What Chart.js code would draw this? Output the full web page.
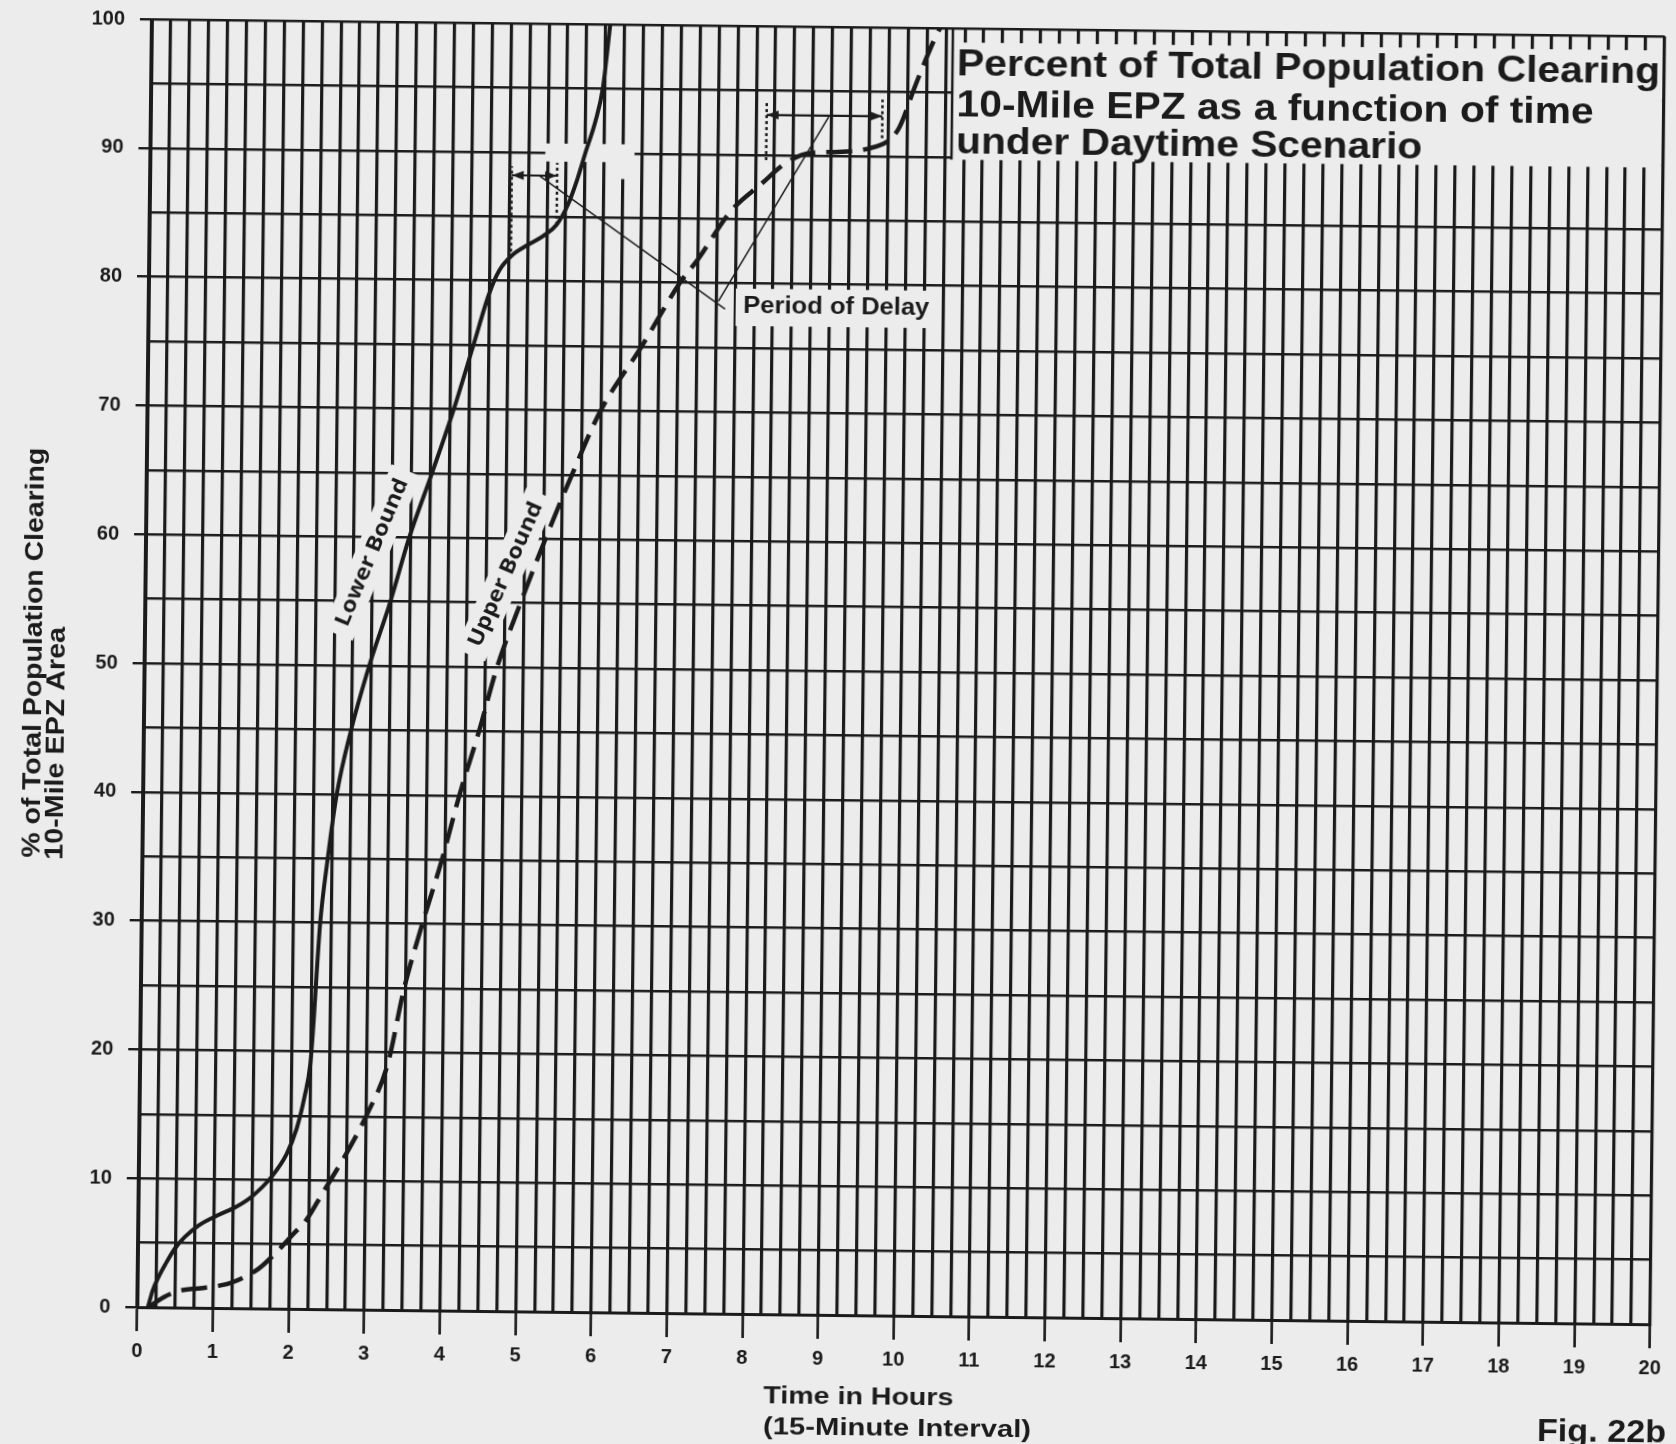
<!DOCTYPE html>
<html>
<head>
<meta charset="utf-8">
<title>Percent of Total Population Clearing 10-Mile EPZ – Daytime Scenario</title>
<script src="https://cdn.jsdelivr.net/npm/chart.js@4.4.1/dist/chart.umd.min.js"></script>
<style>
  html, body { margin: 0; padding: 0; background: #ececec; overflow: hidden; }
  /* the printed sheet sits slightly askew on the page */
  #sheet { width: 1676px; height: 1444px; transform: rotate(0.65deg); transform-origin: 838px 722px; }
  canvas { display: block; }
</style>
</head>
<body>
<div id="sheet"><canvas id="chart" width="1676" height="1444"></canvas></div>
<script>
// Time (hours) versus percent of the EPZ population that has cleared the 10-mile zone.
const lowerHours   = [0.14, 0.2, 0.28, 0.36, 0.49, 0.62, 0.8, 1.05, 1.3, 1.5,
                      1.75, 1.95, 2.08, 2.18, 2.25, 2.29, 2.32, 2.36, 2.45, 2.56,
                      2.74, 2.97, 3.24, 3.48, 3.77, 4.05, 4.3, 4.5, 4.63, 4.8,
                      5.0, 5.2, 5.38, 5.53, 5.65, 5.75, 5.88, 5.97, 6.06];
const lowerPercent = [0, 1.3, 2.4, 3.3, 4.6, 5.5, 6.4, 7.2, 7.9, 8.7,
                      10.2, 12.0, 14.0, 16.5, 19.0, 22.5, 26.0, 30, 35, 40,
                      45, 50, 55, 60, 65, 70, 75, 79, 80.8, 82.0,
                      82.8, 83.5, 84.4, 86, 88, 90, 92.5, 95, 100];

const upperHours   = [0.15, 0.35, 0.55, 0.8, 1.05, 1.25, 1.6, 1.8, 2.05, 2.22,
                      2.43, 2.74, 3.01, 3.27, 3.48, 3.71, 3.96, 4.18, 4.43, 4.66,
                      4.96, 5.28, 5.62, 5.99, 6.52, 7.02, 7.25, 7.68, 8.07, 8.43,
                      8.73, 9.09, 9.5, 9.75, 9.9, 10.1, 10.36, 10.42];
const upperPercent = [0, 0.8, 1.3, 1.5, 1.7, 2.0, 3.1, 4.2, 5.8, 6.9,
                      9.0, 12.1, 15.2, 19.0, 25, 30, 35, 40, 45, 50,
                      55, 60, 65, 70, 75, 80, 81.8, 85.6, 87.7, 89.5,
                      90.2, 90.3, 90.6, 91.2, 92.3, 95.5, 99.3, 100];

const xTickLabels = ['0', '1', '2', '3', '4', '5', '6', '7', '8', '9', '10',
                     '11', '12', '13', '14', '15', '16', '17', '18', '19', '20'];
const yTickLabels = ['0', '10', '20', '30', '40', '50', '60', '70', '80', '90', '100'];

const titleLines = ['Percent of Total Population Clearing',
                    '10-Mile EPZ as a function of time',
                    'under Daytime Scenario'];
const yTitleLines = ['% of Total Population Clearing', '10-Mile EPZ Area'];
const xTitleLines = ['Time in Hours', '(15-Minute Interval)'];

const PAPER = '#ececec';
const INK = '#1b1b1b';
const SANS = '"Liberation Sans", Arial, Helvetica, sans-serif';
const deg = d => d * Math.PI / 180;

const toPoints = (xs, ys) => xs.map((x, i) => ({ x, y: ys[i] }));

function segment(ctx, x1, y1, x2, y2) {
  ctx.beginPath();
  ctx.moveTo(x1, y1);
  ctx.lineTo(x2, y2);
  ctx.stroke();
}

// text squeezed or stretched horizontally to a given run length
function fitText(ctx, text, x, y, width, font, opts = {}) {
  ctx.save();
  ctx.font = font;
  ctx.textAlign = opts.align || 'left';
  ctx.textBaseline = opts.baseline || 'alphabetic';
  const k = width / ctx.measureText(text).width;
  ctx.translate(x, y);
  if (opts.angle) ctx.rotate(opts.angle);
  ctx.scale(k, 1);
  ctx.fillText(text, 0, 0);
  ctx.restore();
}

function arrowHead(ctx, x, y, dir) {
  ctx.beginPath();
  ctx.moveTo(x, y);
  ctx.lineTo(x - dir * 12, y - 4.5);
  ctx.lineTo(x - dir * 12, y + 4.5);
  ctx.closePath();
  ctx.fill();
}

const curveLabels = [
  { text: 'Lower Bound', h: 2.99, v: 58.8, len: 158, angle: -68.0 },
  { text: 'Upper Bound', h: 4.76, v: 57.2, len: 156, angle: -66.9 }
];

const figureNotes = {
  id: 'figureNotes',
  beforeDatasetsDraw(chart) {
    const { ctx, chartArea: a } = chart;
    const X = v => chart.scales.x.getPixelForValue(v);
    const Y = v => chart.scales.y.getPixelForValue(v);
    ctx.save();
    ctx.fillStyle = PAPER;

    // heading panel over the upper-right corner of the grid
    const pL = X(10.59), pT = Y(98.9), pB = Y(89.8);
    ctx.fillRect(pL, pT, a.right - 2 - pL, pB - pT);

    // worn spots on the 90 % rule
    ctx.fillRect(X(5.22), Y(90.7), X(6.4) - X(5.22), Y(89.3) - Y(90.7));
    ctx.fillRect(X(6.1), Y(90.2), X(6.36) - X(6.1), Y(88.0) - Y(90.2));

    // ground under "Period of Delay"
    ctx.fillRect(X(7.76), Y(79.6), X(10.37) - X(7.76), Y(76.7) - Y(79.6));

    // grounds under the rotated curve names
    for (const c of curveLabels) {
      ctx.save();
      ctx.translate(X(c.h), Y(c.v));
      ctx.rotate(deg(c.angle));
      ctx.fillRect(-c.len / 2 - 10, -16, c.len + 20, 32);
      ctx.restore();
    }

    // left rule of the heading panel
    ctx.strokeStyle = INK;
    ctx.lineWidth = 2.5;
    segment(ctx, pL, a.top, pL, pB);
    ctx.restore();
  },
  afterDatasetsDraw(chart) {
    const { ctx } = chart;
    const X = v => chart.scales.x.getPixelForValue(v);
    const Y = v => chart.scales.y.getPixelForValue(v);
    ctx.save();
    ctx.strokeStyle = INK;
    ctx.fillStyle = INK;

    // delay brackets: dotted end markers
    ctx.lineWidth = 2.5;
    ctx.setLineDash([3, 3]);
    segment(ctx, X(4.78), Y(81.8), X(4.78), Y(88.9));
    segment(ctx, X(5.38), Y(84.4), X(5.38), Y(89.2));
    segment(ctx, X(8.14), Y(89.6), X(8.14), Y(94.2));
    segment(ctx, X(9.67), Y(91.4), X(9.67), Y(94.4));
    ctx.setLineDash([]);

    // delay brackets: spans with arrow heads
    ctx.lineWidth = 2.2;
    segment(ctx, X(4.78), Y(88.2), X(5.38), Y(88.2));
    arrowHead(ctx, X(4.78), Y(88.2), -1);
    arrowHead(ctx, X(5.38), Y(88.2), 1);
    segment(ctx, X(8.14), Y(93.1), X(9.67), Y(93.1));
    arrowHead(ctx, X(8.14), Y(93.1), -1);
    arrowHead(ctx, X(9.67), Y(93.1), 1);

    // leaders to the "Period of Delay" note
    ctx.lineWidth = 1.5;
    segment(ctx, X(5.14), Y(88.2), X(7.62), Y(78.0));
    segment(ctx, X(8.96), Y(93.0), X(7.53), Y(78.6));

    fitText(ctx, 'Period of Delay', X(7.86), Y(78.3) + 8, 186, `bold 23px ${SANS}`);

    // curve names along the lines
    for (const c of curveLabels) {
      fitText(ctx, c.text, X(c.h), Y(c.v), c.len, `bold 21px "Open Sans", ${SANS}`,
              { align: 'center', baseline: 'middle', angle: deg(c.angle) });
    }

    // heading
    const tx = X(10.65);
    const titleBase = [74, 115, 152];
    const titleWidth = [703, 637, 466];
    titleLines.forEach((t, i) => fitText(ctx, t, tx, titleBase[i], titleWidth[i], `bold 37px ${SANS}`));

    // axis titles
    const yStart = Y(34.8);
    fitText(ctx, yTitleLines[0], 41, yStart, 410, `bold 25px ${SANS}`, { angle: -Math.PI / 2 });
    fitText(ctx, yTitleLines[1], 64, yStart + 2, 233, `bold 25px ${SANS}`, { angle: -Math.PI / 2 });

    const xx = X(8.29);
    fitText(ctx, xTitleLines[0], xx, 1404, 190, `bold 23px ${SANS}`);
    fitText(ctx, xTitleLines[1], xx, 1435, 268, `bold 23px ${SANS}`);

    fitText(ctx, 'Fig. 22b', 1545, 1433, 129, `bold 31px ${SANS}`);
    ctx.restore();
  }
};

new Chart(document.getElementById('chart'), {
  type: 'line',
  data: {
    datasets: [
      {
        label: 'Lower Bound',
        data: toPoints(lowerHours, lowerPercent),
        borderColor: INK,
        borderWidth: 4,
        pointRadius: 0,
        fill: false,
        cubicInterpolationMode: 'monotone'
      },
      {
        label: 'Upper Bound',
        data: toPoints(upperHours, upperPercent),
        borderColor: INK,
        borderWidth: 4.5,
        borderDash: [26, 11],
        pointRadius: 0,
        fill: false,
        cubicInterpolationMode: 'monotone'
      }
    ]
  },
  options: {
    responsive: false,
    animation: false,
    devicePixelRatio: 1,
    layout: { padding: { left: 0, top: 25, right: 15, bottom: 0 } },
    plugins: { legend: { display: false }, tooltip: { enabled: false } },
    scales: {
      x: {
        type: 'linear',
        min: 0,
        max: 20,
        afterFit: s => { s.height = 129; },
        ticks: {
          stepSize: 0.25,
          maxTicksLimit: 1000,
          autoSkip: false,
          maxRotation: 0,
          padding: 8,
          color: INK,
          font: { family: SANS, weight: 'bold', size: 20 },
          callback: v => Number.isInteger(v) ? xTickLabels[v] : ''
        },
        grid: {
          color: INK,
          lineWidth: 3.2,
          tickLength: 24,
          tickWidth: 2.6,
          tickColor: c => Number.isInteger(c.tick.value) ? INK : 'rgba(0,0,0,0)'
        },
        border: { color: INK, width: 3 }
      },
      y: {
        min: 0,
        max: 100,
        afterFit: s => { s.width = 144; },
        ticks: {
          stepSize: 5,
          maxTicksLimit: 1000,
          autoSkip: false,
          padding: 15,
          color: INK,
          font: { family: SANS, weight: 'bold', size: 20 },
          callback: v => v % 10 === 0 ? yTickLabels[v / 10] : ''
        },
        grid: {
          color: INK,
          lineWidth: 2.4,
          tickLength: 12,
          tickWidth: 2.4,
          tickColor: c => c.tick.value % 10 === 0 ? INK : 'rgba(0,0,0,0)'
        },
        border: { color: INK, width: 3 }
      }
    }
  },
  plugins: [figureNotes]
});
</script>
</body>
</html>
